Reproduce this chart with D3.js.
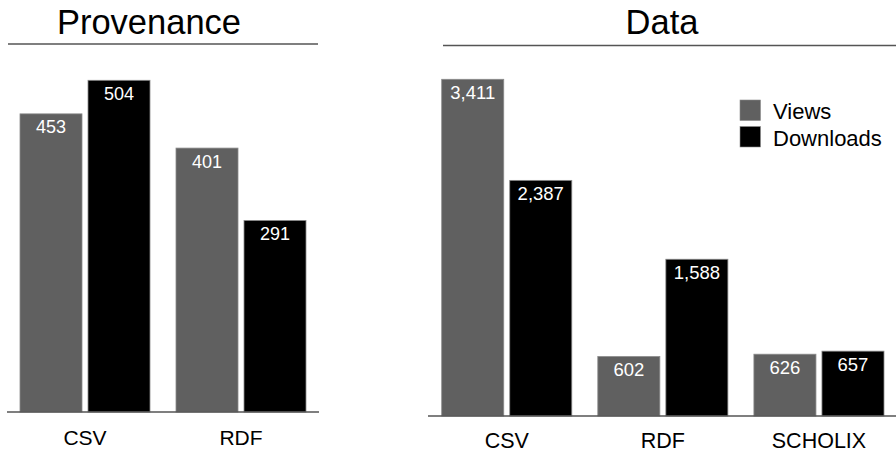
<!DOCTYPE html>
<html>
<head>
<meta charset="utf-8">
<script src="https://cdn.jsdelivr.net/npm/d3@7"></script>
<style>
  html, body { margin: 0; padding: 0; background: #fff; }
  svg { display: block; font-family: "Liberation Sans", Arial, Helvetica, sans-serif; }
</style>
</head>
<body>
<svg id="chart" width="896" height="454"></svg>
<script>
const seriesNames = ["Views", "Downloads"];
const provCategories = ["CSV", "RDF"];
const provViews = [453, 401];
const provDownloads = [504, 291];
const dataCategories = ["CSV", "RDF", "SCHOLIX"];
const dataViews = [3411, 602, 626];
const dataDownloads = [2387, 1588, 657];

const colors = { "Views": "#606060", "Downloads": "#000000" };
const svg = d3.select("#chart");
const fmt = d3.format(",");

function panel(cfg) {
  const g = svg.append("g");
  const x0 = d3.scaleBand().domain(cfg.categories).range(cfg.xRange)
    .paddingInner(1/6).paddingOuter(1/12);
  const x1 = d3.scaleBand().domain(seriesNames).range([0, x0.bandwidth()])
    .paddingInner(6/68).paddingOuter(0);
  const y = d3.scaleLinear().domain([0, cfg.yMax]).range([cfg.base, cfg.yTop]);

  g.append("text").attr("x", cfg.titleX).attr("y", cfg.titleY)
    .attr("text-anchor", "middle").attr("font-size", 34.5).attr("fill", "#000")
    .text(cfg.title);
  g.append("line").attr("x1", cfg.ruleX[0]).attr("x2", cfg.ruleX[1])
    .attr("y1", cfg.ruleY).attr("y2", cfg.ruleY)
    .attr("stroke", "#555").attr("stroke-width", 1.3);

  const rows = cfg.categories.map((c, i) => ({
    cat: c,
    vals: [{ s: "Views", v: cfg.views[i] }, { s: "Downloads", v: cfg.downloads[i] }]
  }));

  const grp = g.selectAll("g.grp").data(rows).join("g")
    .attr("class", "grp")
    .attr("transform", d => `translate(${x0(d.cat)},0)`);

  grp.selectAll("rect").data(d => d.vals).join("rect")
    .attr("x", d => x1(d.s))
    .attr("y", d => y(d.v))
    .attr("width", x1.bandwidth())
    .attr("height", d => y(0) - y(d.v))
    .attr("fill", d => colors[d.s])
    .attr("stroke", "#8a8a8a").attr("stroke-width", 0.8);

  grp.selectAll("text.val").data(d => d.vals).join("text")
    .attr("class", "val")
    .attr("x", d => x1(d.s) + x1.bandwidth() / 2)
    .attr("y", d => y(d.v) + 19.5)
    .attr("text-anchor", "middle")
    .attr("font-size", cfg.valSize).attr("fill", "#fff")
    .text(d => fmt(d.v));

  const axis = d3.axisBottom(x0).tickSize(0).tickSizeOuter(0).tickPadding(cfg.tickPad);
  const ax = g.append("g").attr("transform", `translate(0,${cfg.base})`).call(axis);
  ax.select(".domain").attr("stroke", "#555").attr("stroke-width", 1.3)
    .attr("d", `M${cfg.axisX[0]},0H${cfg.axisX[1]}`);
  ax.selectAll(".tick text").attr("font-size", cfg.catSize).attr("fill", "#000")
    .attr("font-family", "Liberation Sans, Arial, sans-serif");
}

panel({
  title: "Provenance", titleX: 149, titleY: 33.5, ruleX: [8, 318], ruleY: 44,
  categories: provCategories, views: provViews, downloads: provDownloads,
  xRange: [7, 319], axisX: [7, 319], base: 412, yMax: 504, yTop: 80.3,
  valSize: 18, catSize: 21, tickPad: 18
});

panel({
  title: "Data", titleX: 662, titleY: 34, ruleX: [443, 896], ruleY: 45.5,
  categories: dataCategories, views: dataViews, downloads: dataDownloads,
  xRange: [428.7, 897], axisX: [428, 896], base: 416, yMax: 3411, yTop: 79.3,
  valSize: 18.5, catSize: 21.5, tickPad: 16.7
});

const leg = svg.append("g").attr("transform", "translate(740,100)");
seriesNames.forEach((s, i) => {
  leg.append("rect").attr("x", 0).attr("y", i * 26.5).attr("width", 20.5).attr("height", 20.5)
    .attr("fill", colors[s]).attr("stroke", "#8a8a8a").attr("stroke-width", 0.6);
  leg.append("text").attr("x", 33).attr("y", i * 26.5 + 19).attr("font-size", 22)
    .attr("fill", "#000").text(s);
});
</script>
</body>
</html>
